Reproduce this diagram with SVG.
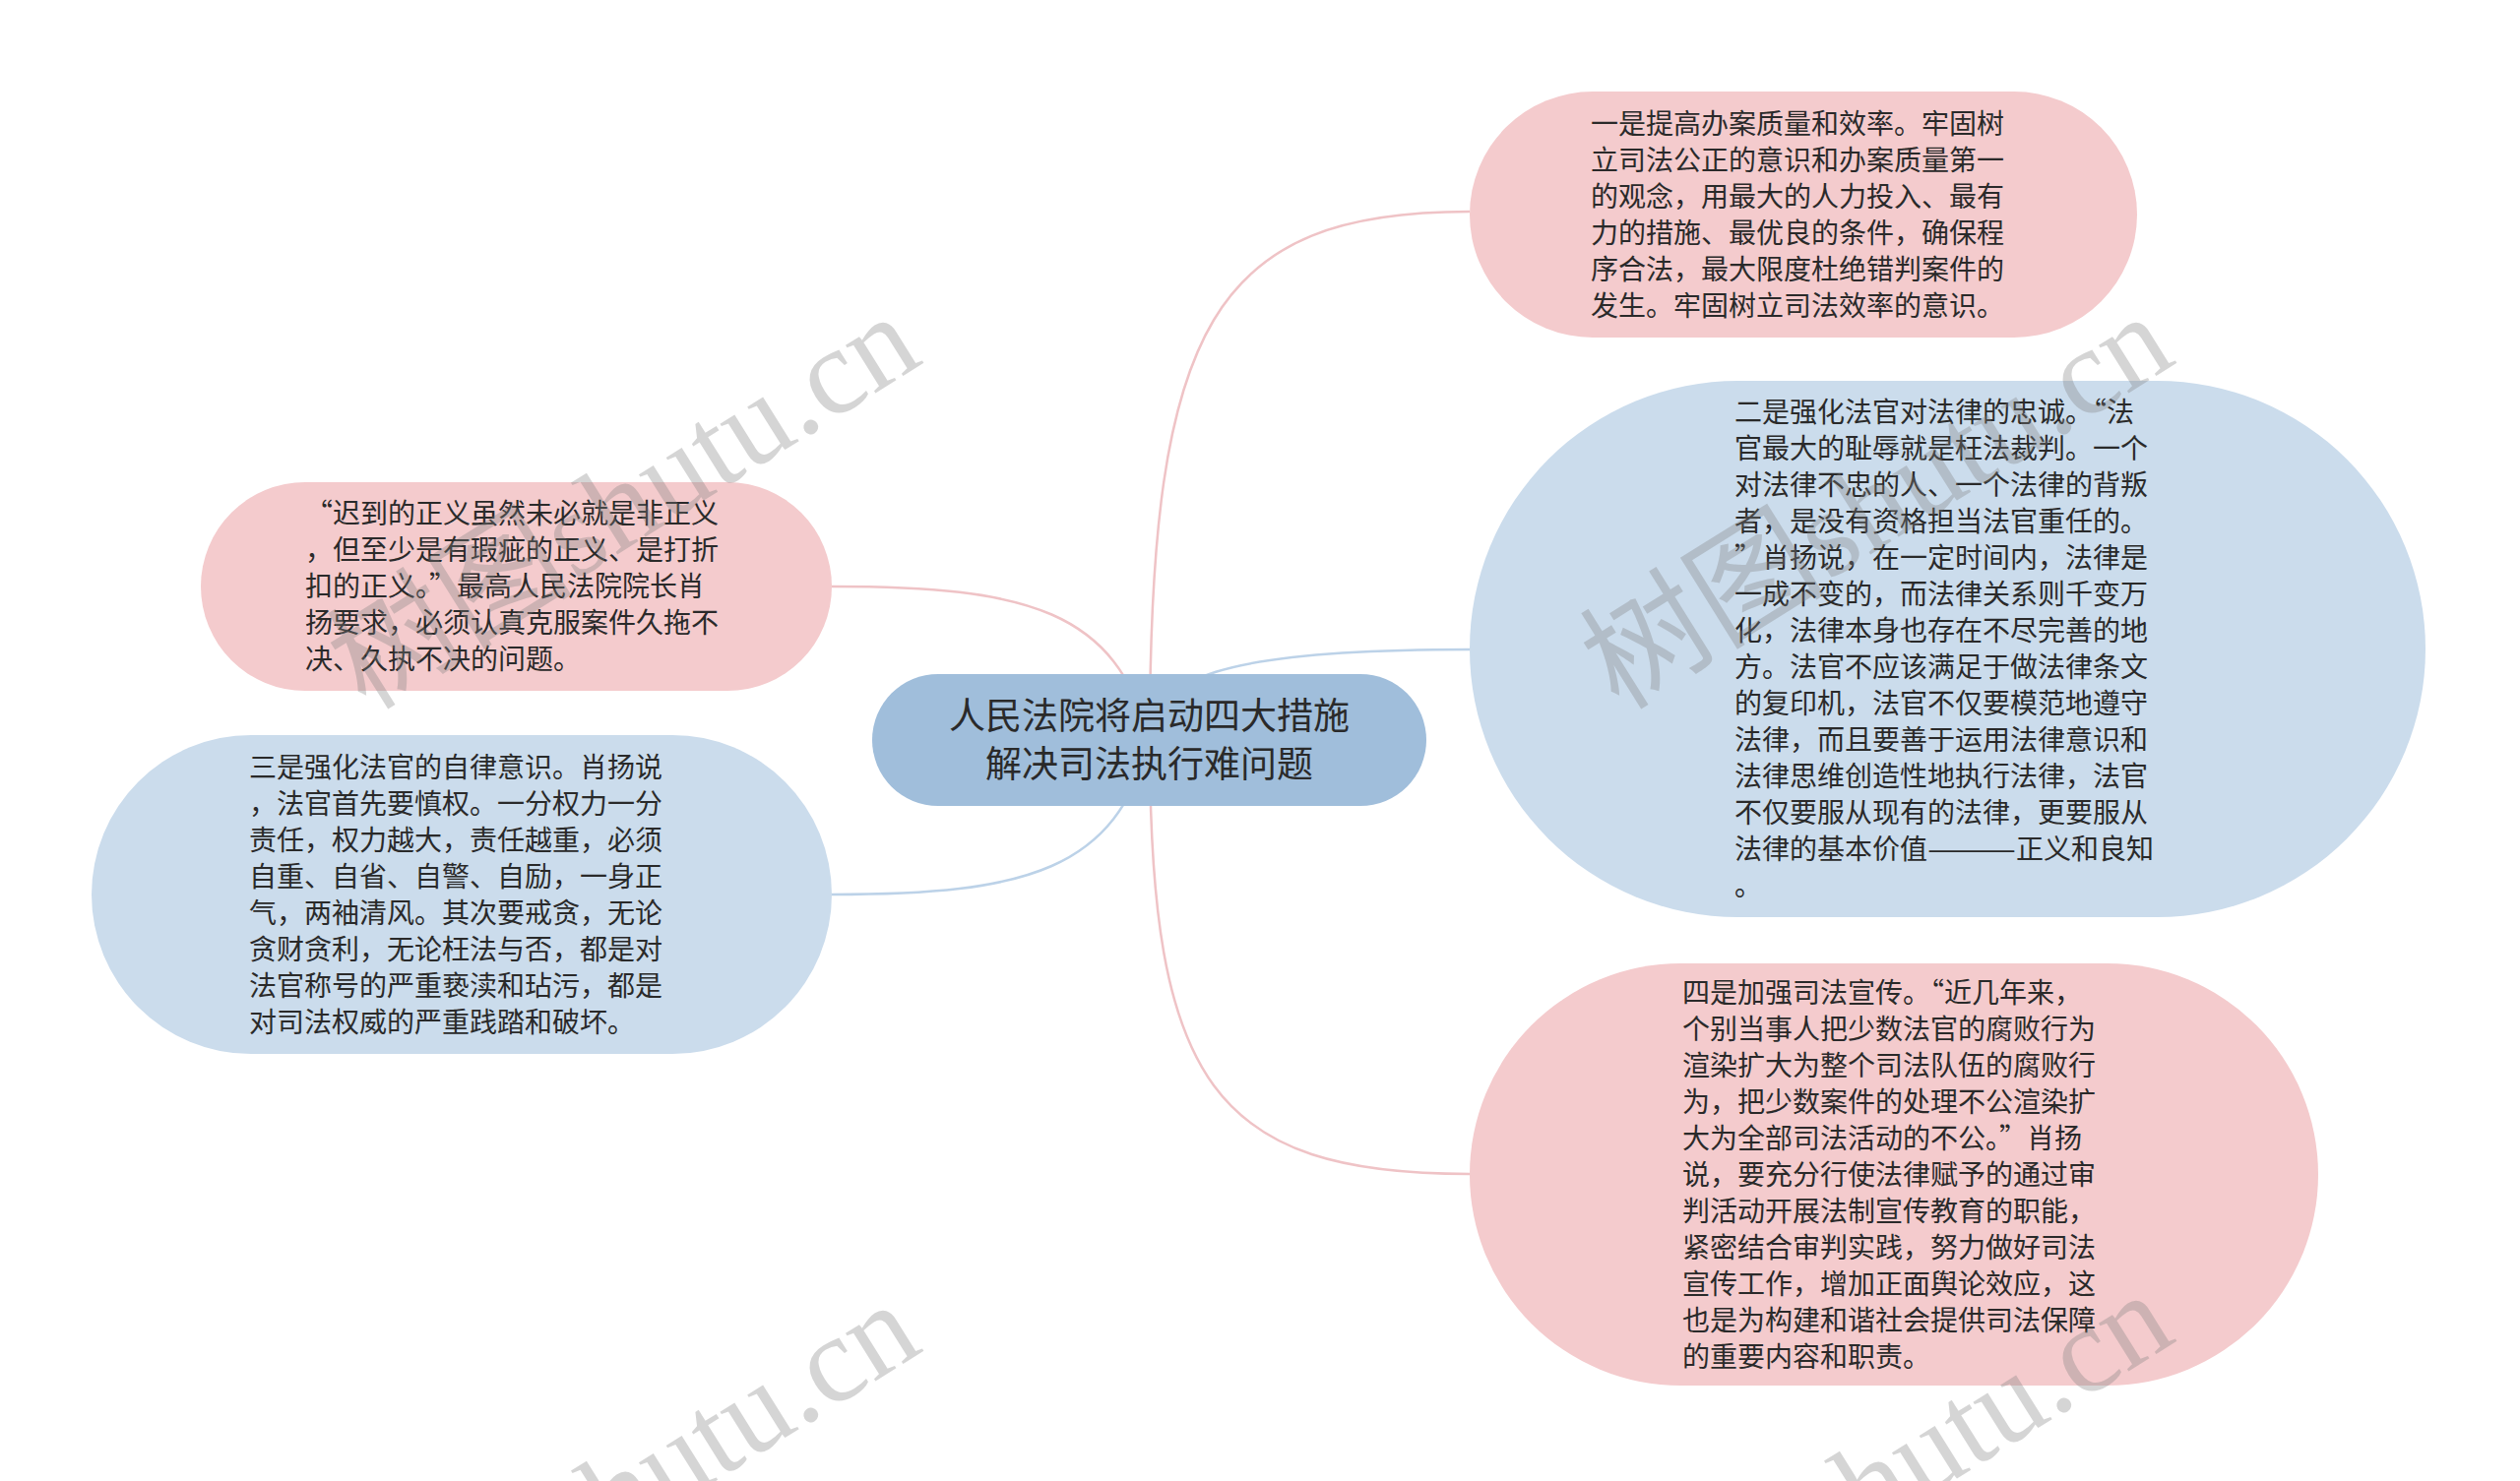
<svg xmlns="http://www.w3.org/2000/svg" width="2560" height="1505" viewBox="0 0 2560 1505">
<style>
.pink{fill:#f4cbcd}
.blue{fill:#cbdcec}
.root{fill:#a0bedb}
.t{font-family:"Noto Sans CJK SC","Noto Sans",sans-serif;font-size:28px;fill:#2a2a2a}
.rt{font-family:"Noto Sans CJK SC","Noto Sans",sans-serif;font-size:37px;fill:#2a2a2a;text-anchor:middle}
.lp{fill:none;stroke:#efc3c6;stroke-width:2.5}
.lb{fill:none;stroke:#bcd2e8;stroke-width:2.5}
.wm{font-family:"Liberation Serif","Noto Sans CJK SC",serif;font-size:125px;fill:#808080;fill-opacity:0.33;text-anchor:end}
</style>
<rect width="2560" height="1505" fill="#ffffff"/>
<g id="connectors">
<path class="lp" d="M 1168 752 C 1168 330, 1233 215, 1493 215"/>
<path class="lb" d="M 1168 752 C 1174 690, 1233 660, 1493 660"/>
<path class="lp" d="M 1168 752 C 1168 1100, 1233 1193, 1493 1193"/>
<path class="lp" d="M 1168 752 C 1134 620, 1044 596, 845 596"/>
<path class="lb" d="M 1168 752 C 1134 884, 1044 909, 845 909"/>
</g>
<g id="root">
<rect class="root" x="886" y="685" width="563" height="134" rx="67"/>
<text class="rt" x="1167.5" y="741">人民法院将启动四大措施</text>
<text class="rt" x="1167.5" y="790">解决司法执行难问题</text>
</g>
<g id="node1">
<rect class="pink" x="1493" y="93" width="678" height="250" rx="125"/>
<text class="t" x="1616" y="135.5">一是提高办案质量和效率。牢固树</text>
<text class="t" x="1616" y="172.5">立司法公正的意识和办案质量第一</text>
<text class="t" x="1616" y="209.5">的观念，用最大的人力投入、最有</text>
<text class="t" x="1616" y="246.5">力的措施、最优良的条件，确保程</text>
<text class="t" x="1616" y="283.5">序合法，最大限度杜绝错判案件的</text>
<text class="t" x="1616" y="320.5">发生。牢固树立司法效率的意识。</text>
</g>
<g id="node2">
<rect class="blue" x="1493" y="387" width="971" height="545" rx="272.5"/>
<text class="t" x="1762" y="429">二是强化法官对法律的忠诚。“法</text>
<text class="t" x="1762" y="466">官最大的耻辱就是枉法裁判。一个</text>
<text class="t" x="1762" y="503">对法律不忠的人、一个法律的背叛</text>
<text class="t" x="1762" y="540">者，是没有资格担当法官重任的。</text>
<text class="t" x="1762" y="577">”肖扬说，在一定时间内，法律是</text>
<text class="t" x="1762" y="614">一成不变的，而法律关系则千变万</text>
<text class="t" x="1762" y="651">化，法律本身也存在不尽完善的地</text>
<text class="t" x="1762" y="688">方。法官不应该满足于做法律条文</text>
<text class="t" x="1762" y="725">的复印机，法官不仅要模范地遵守</text>
<text class="t" x="1762" y="762">法律，而且要善于运用法律意识和</text>
<text class="t" x="1762" y="799">法律思维创造性地执行法律，法官</text>
<text class="t" x="1762" y="836">不仅要服从现有的法律，更要服从</text>
<text class="t" x="1762" y="873">法律的基本价值<tspan x="1958" textLength="90" lengthAdjust="spacingAndGlyphs">———</tspan><tspan x="2048">正义和良知</tspan></text>
<text class="t" x="1762" y="910">。</text>
</g>
<g id="node3">
<rect class="pink" x="204" y="490" width="641" height="212" rx="106"/>
<text class="t" x="310" y="532">“迟到的正义虽然未必就是非正义</text>
<text class="t" x="310" y="569">，但至少是有瑕疵的正义、是打折</text>
<text class="t" x="310" y="606">扣的正义。”最高人民法院院长肖</text>
<text class="t" x="310" y="643">扬要求，必须认真克服案件久拖不</text>
<text class="t" x="310" y="680">决、久执不决的问题。</text>
</g>
<g id="node4">
<rect class="blue" x="93" y="747" width="752" height="324" rx="162"/>
<text class="t" x="253" y="790">三是强化法官的自律意识。肖扬说</text>
<text class="t" x="253" y="827">，法官首先要慎权。一分权力一分</text>
<text class="t" x="253" y="864">责任，权力越大，责任越重，必须</text>
<text class="t" x="253" y="901">自重、自省、自警、自励，一身正</text>
<text class="t" x="253" y="938">气，两袖清风。其次要戒贪，无论</text>
<text class="t" x="253" y="975">贪财贪利，无论枉法与否，都是对</text>
<text class="t" x="253" y="1012">法官称号的严重亵渎和玷污，都是</text>
<text class="t" x="253" y="1049">对司法权威的严重践踏和破坏。</text>
</g>
<g id="node5">
<rect class="pink" x="1493" y="979" width="862" height="429" rx="214.5"/>
<text class="t" x="1709" y="1019">四是加强司法宣传。“近几年来，</text>
<text class="t" x="1709" y="1056">个别当事人把少数法官的腐败行为</text>
<text class="t" x="1709" y="1093">渲染扩大为整个司法队伍的腐败行</text>
<text class="t" x="1709" y="1130">为，把少数案件的处理不公渲染扩</text>
<text class="t" x="1709" y="1167">大为全部司法活动的不公。”肖扬</text>
<text class="t" x="1709" y="1204">说，要充分行使法律赋予的通过审</text>
<text class="t" x="1709" y="1241">判活动开展法制宣传教育的职能，</text>
<text class="t" x="1709" y="1278">紧密结合审判实践，努力做好司法</text>
<text class="t" x="1709" y="1315">宣传工作，增加正面舆论效应，这</text>
<text class="t" x="1709" y="1352">也是为构建和谐社会提供司法保障</text>
<text class="t" x="1709" y="1389">的重要内容和职责。</text>
</g>
<g id="watermark">
<text class="wm" transform="translate(940,368) rotate(-32)">树图shutu.cn</text>
<text class="wm" transform="translate(2213,368) rotate(-32)">树图shutu.cn</text>
<text class="wm" transform="translate(940,1372) rotate(-32)">树图shutu.cn</text>
<text class="wm" transform="translate(2213,1362) rotate(-32)">树图shutu.cn</text>
</g>
</svg>
